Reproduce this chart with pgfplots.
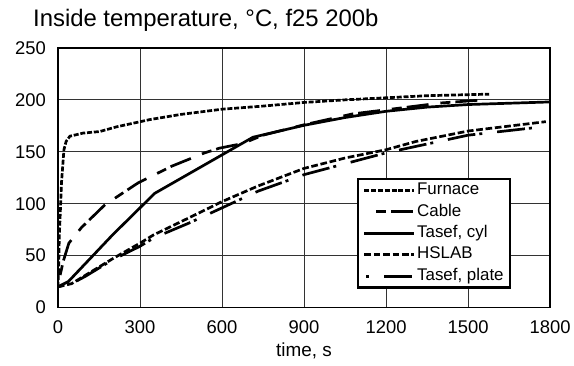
\documentclass[border=0pt]{standalone}
\usepackage{fontspec}
\setmainfont{Liberation Sans}
\usepackage{pgfplots}
\pgfplotsset{compat=1.18}
\begin{document}
\begin{tikzpicture}
\begin{axis}[
  scale only axis, width=493bp, height=260bp,
  xmin=0, xmax=1800, ymin=0, ymax=250,
  xtick={0,300,...,1800}, ytick={0,50,...,250},
  grid=major, major grid style={black!80, line width=0.9bp},
  axis line style={line width=1.8bp},
  major tick length=0pt,
  /pgf/number format/assume math mode=true,
  /pgf/number format/set thousands separator={},
  tick label style={font=\fontsize{18.5}{21}\selectfont},
  yticklabel style={anchor=east, xshift=-8.5bp},
  xticklabel style={anchor=north, yshift=-10bp},
  xlabel={time, s},
  xlabel style={font=\fontsize{19}{22}\selectfont, at={(axis description cs:0.5,0)}, anchor=base, yshift=-49bp},
  legend style={at={(rel axis cs:0.921,0.073)}, anchor=south east, draw=black, line width=2.4bp,
    font=\fontsize{17}{20}\selectfont, inner xsep=5bp, inner ysep=1.5bp, row sep=2bp,
    nodes={text height=12.5bp, text depth=4bp, inner sep=1.5bp}},
  legend cell align=left,
  legend image code/.code={\draw[#1] (0bp,0bp) -- (50bp,0bp);},
]
\addplot[black, line width=2.7bp, dash pattern=on 5bp off 1.8bp] coordinates {
(0,20) (3,40) (5,68) (10,100) (13,120) (22,152) (30,160) (44,165) (92,168) (153,169.5) (214,174) (336,181) (450,186) (600,191) (750,194) (900,197.5) (1050,200) (1200,202) (1350,204) (1500,205) (1577,205.5)};
\addlegendentry{Furnace}
\addplot[black, line width=2.7bp, dash pattern=on 10bp off 5bp on 22bp off 12bp, dash phase=37bp] coordinates {
(0,20) (7,30) (20,45) (40,62) (86,77) (172,99) (293,120) (415,136) (537,149) (591,153.5) (676,158) (750,166) (900,176) (1078,186.5) (1248,192) (1400,197) (1558,200)};
\addlegendentry{Cable}
\addplot[black, line width=2.7bp] coordinates {
(0,20) (38,25) (110,45) (200,70) (354,110) (713,164) (900,175.5) (1050,183) (1200,189) (1350,193) (1500,195.5) (1800,198)};
\addlegendentry{Tasef, cyl}
\addplot[black, line width=2.7bp, dash pattern=on 6.7bp off 2.7bp] coordinates {
(0,20) (50,23) (100,31) (200,47) (300,62) (350,70) (476,86) (600,102) (731,117) (900,134) (1050,144) (1200,152) (1310,160) (1500,170) (1784,179)};
\addlegendentry{HSLAB}
\addplot[black, line width=2.7bp, dash pattern=on 3bp off 15bp on 28bp off 4bp, dash phase=48bp] coordinates {
(0,20) (50,23) (100,30) (200,46) (300,59) (350,67) (476,81) (600,96) (731,112) (900,128) (1200,149) (1297,154.5) (1500,166) (1770,174)};
\addlegendentry{Tasef, plate}
\end{axis}
\node[anchor=base west, font=\fontsize{24}{28}\selectfont, inner sep=0pt] at (-25bp,281bp) {Inside temperature, °C, f25 200b};
\useasboundingbox (-58bp,-58bp) rectangle (516bp,308bp);
\end{tikzpicture}
\end{document}
